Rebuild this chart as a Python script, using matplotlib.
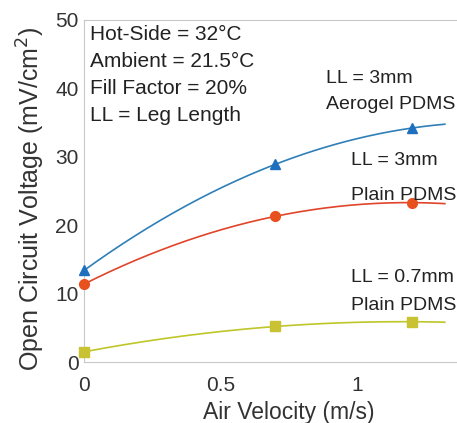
import numpy as np
import matplotlib
matplotlib.use("Agg")
import matplotlib.pyplot as plt

plt.rcParams['font.family'] = ['Liberation Sans', 'DejaVu Sans']

# air velocity (m/s)
velocity = [0.0, 0.7, 1.2]

# open circuit voltage (mV/cm^2)
aerogel_3mm = [13.4, 28.9, 34.2]
plain_3mm = [11.4, 21.3, 23.3]
plain_07mm = [1.5, 5.2, 5.9]

series = [
    (aerogel_3mm, '^', '#1f6fbf', '#2f7fb8'),
    (plain_3mm, 'o', '#e8501e', '#e0452a'),
    (plain_07mm, 's', '#c9c232', '#bfc628'),
]

conditions = ["Hot-Side = 32\u00b0C", "Ambient = 21.5\u00b0C",
              "Fill Factor = 20%", "LL = Leg Length"]

fig = plt.figure(figsize=(4.57, 4.23), dpi=100)
# axes run past the right edge, like the cropped original
ax = fig.add_axes([0.184, 0.144, 0.897, 0.809])

xfit = np.linspace(0, 1.32, 200)
for vals, mk, mcol, lcol in series:
    coef = np.polyfit(velocity, vals, 2)
    ax.plot(xfit, np.polyval(coef, xfit), color=lcol, lw=1.2, zorder=2)
    ax.plot(velocity, vals, mk, color=mcol, ms=7, zorder=3, clip_on=False)

ax.set_xlim(0, 1.5)
ax.set_ylim(0, 50)
ax.set_xticks([0, 0.5, 1])
ax.set_xticklabels(['0', '0.5', '1'])
ax.set_yticks([0, 10, 20, 30, 40, 50])

for s in ax.spines.values():
    s.set_color('#c8c8c8')
    s.set_linewidth(0.8)
ax.tick_params(length=0, labelsize=15, colors='#333333')
ax.tick_params(axis='x', pad=10)
ax.tick_params(axis='y', pad=4)

ax.set_xlabel('Air Velocity (m/s)', fontsize=16.5, color='#333333', labelpad=4)
ax.set_ylabel('Open Circuit Voltage (mV/cm$^2$)', fontsize=18,
              color='#333333')
ax.yaxis.set_label_coords(-0.09, 0.477)

fs = 15
for i, t in enumerate(conditions):
    ax.text(0.02, 47.8 - 3.9 * i, t, fontsize=fs, color='#222222',
            ha='left', va='center')

# right-side labels a touch smaller so they stay inside the picture
fs2 = 14
ax.text(0.886, 41.5, "LL = 3mm", fontsize=fs2, color='#222222', va='center')
ax.text(0.886, 37.6, "Aerogel PDMS", fontsize=fs2, color='#222222', va='center')
ax.text(0.975, 29.5, "LL = 3mm", fontsize=fs2, color='#222222', va='center')
ax.text(0.975, 24.4, "Plain PDMS", fontsize=fs2, color='#222222', va='center')
ax.text(0.975, 12.4, "LL = 0.7mm", fontsize=fs2, color='#222222', va='center')
ax.text(0.975, 8.3, "Plain PDMS", fontsize=fs2, color='#222222', va='center')

fig.savefig('out.png', dpi=100)
